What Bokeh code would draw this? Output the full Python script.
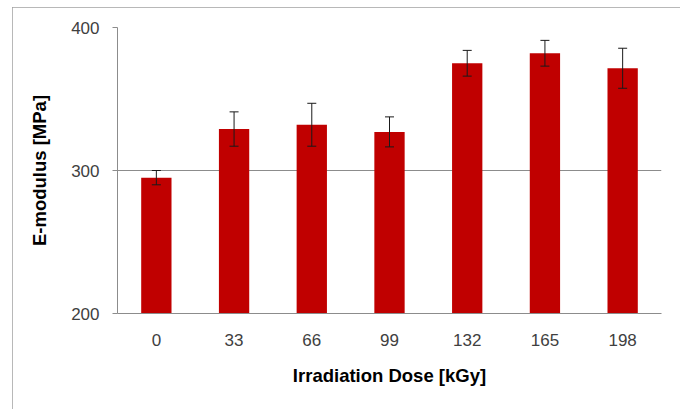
from bokeh.plotting import figure
from bokeh.models import ColumnDataSource, FactorRange, Range1d, Whisker, TeeHead, FixedTicker
from bokeh.embed import file_html
from bokeh.resources import INLINE

doses = ["0", "33", "66", "99", "132", "165", "198"]
modulus = [295, 329, 332, 327, 375, 382, 371.5]
errors = [5, 12, 15, 10.5, 9, 9, 14]
y_ticks = [200, 300, 400]

upper = [m + e for m, e in zip(modulus, errors)]
lower = [m - e for m, e in zip(modulus, errors)]
source = ColumnDataSource(data=dict(x=doses, top=modulus, upper=upper, lower=lower))

p = figure(
    x_range=FactorRange(factors=doses),
    y_range=Range1d(200, 400),
    width=668, height=402,
    output_backend="svg", toolbar_location=None,
    min_border_left=105, min_border_right=19, min_border_top=20, min_border_bottom=96,
)
p.margin = (7, 0, 0, 12)
p.styles = {"outline": "1px solid #a0a0a0", "outline-offset": "-1px"}
p.outline_line_color = None
p.background_fill_color = "white"
p.border_fill_color = "white"

p.vbar(x="x", top="top", bottom=200, width=0.39, source=source,
       fill_color="#C00000", line_color=None)

w = Whisker(base="x", upper="upper", lower="lower", source=source,
            line_color="#1a1a1a", line_width=1, level="overlay",
            upper_head=TeeHead(size=9, line_color="#1a1a1a", line_width=1),
            lower_head=TeeHead(size=9, line_color="#1a1a1a", line_width=1))
p.add_layout(w)

# grid
p.xgrid.grid_line_color = None
p.ygrid.grid_line_color = "#8c8c8c"
p.ygrid.grid_line_width = 1
p.ygrid.ticker = FixedTicker(ticks=y_ticks)

# y axis
p.yaxis.ticker = FixedTicker(ticks=y_ticks)
p.yaxis.axis_line_color = "#8c8c8c"
p.yaxis.major_tick_line_color = "#8c8c8c"
p.yaxis.major_tick_out = 5
p.yaxis.major_tick_in = 0
p.yaxis.minor_tick_line_color = None
p.yaxis.major_label_text_font = "Liberation Sans"
p.yaxis.major_label_text_font_size = "17px"
p.yaxis.major_label_text_color = "#404040"
p.yaxis.major_label_standoff = 13
p.yaxis.axis_label = "E-modulus [MPa]"
p.yaxis.axis_label_text_font = "Liberation Sans"
p.yaxis.axis_label_text_font_style = "bold"
p.yaxis.axis_label_text_font_size = "18.5px"
p.yaxis.axis_label_text_color = "#000000"
p.yaxis.axis_label_standoff = 18

# x axis
p.xaxis.axis_line_color = "#8c8c8c"
p.xaxis.major_tick_line_color = None
p.xaxis.major_tick_out = 0
p.xaxis.major_tick_in = 0
p.xaxis.major_label_text_font = "Liberation Sans"
p.xaxis.major_label_text_font_size = "17px"
p.xaxis.major_label_text_color = "#404040"
p.xaxis.major_label_standoff = 20
p.xaxis.axis_label = "Irradiation Dose [kGy]"
p.xaxis.axis_label_text_font = "Liberation Sans"
p.xaxis.axis_label_text_font_style = "bold"
p.xaxis.axis_label_text_font_size = "18.5px"
p.xaxis.axis_label_text_color = "#000000"
p.xaxis.axis_label_standoff = 16

open("out.html", "w").write(file_html(p, INLINE))
